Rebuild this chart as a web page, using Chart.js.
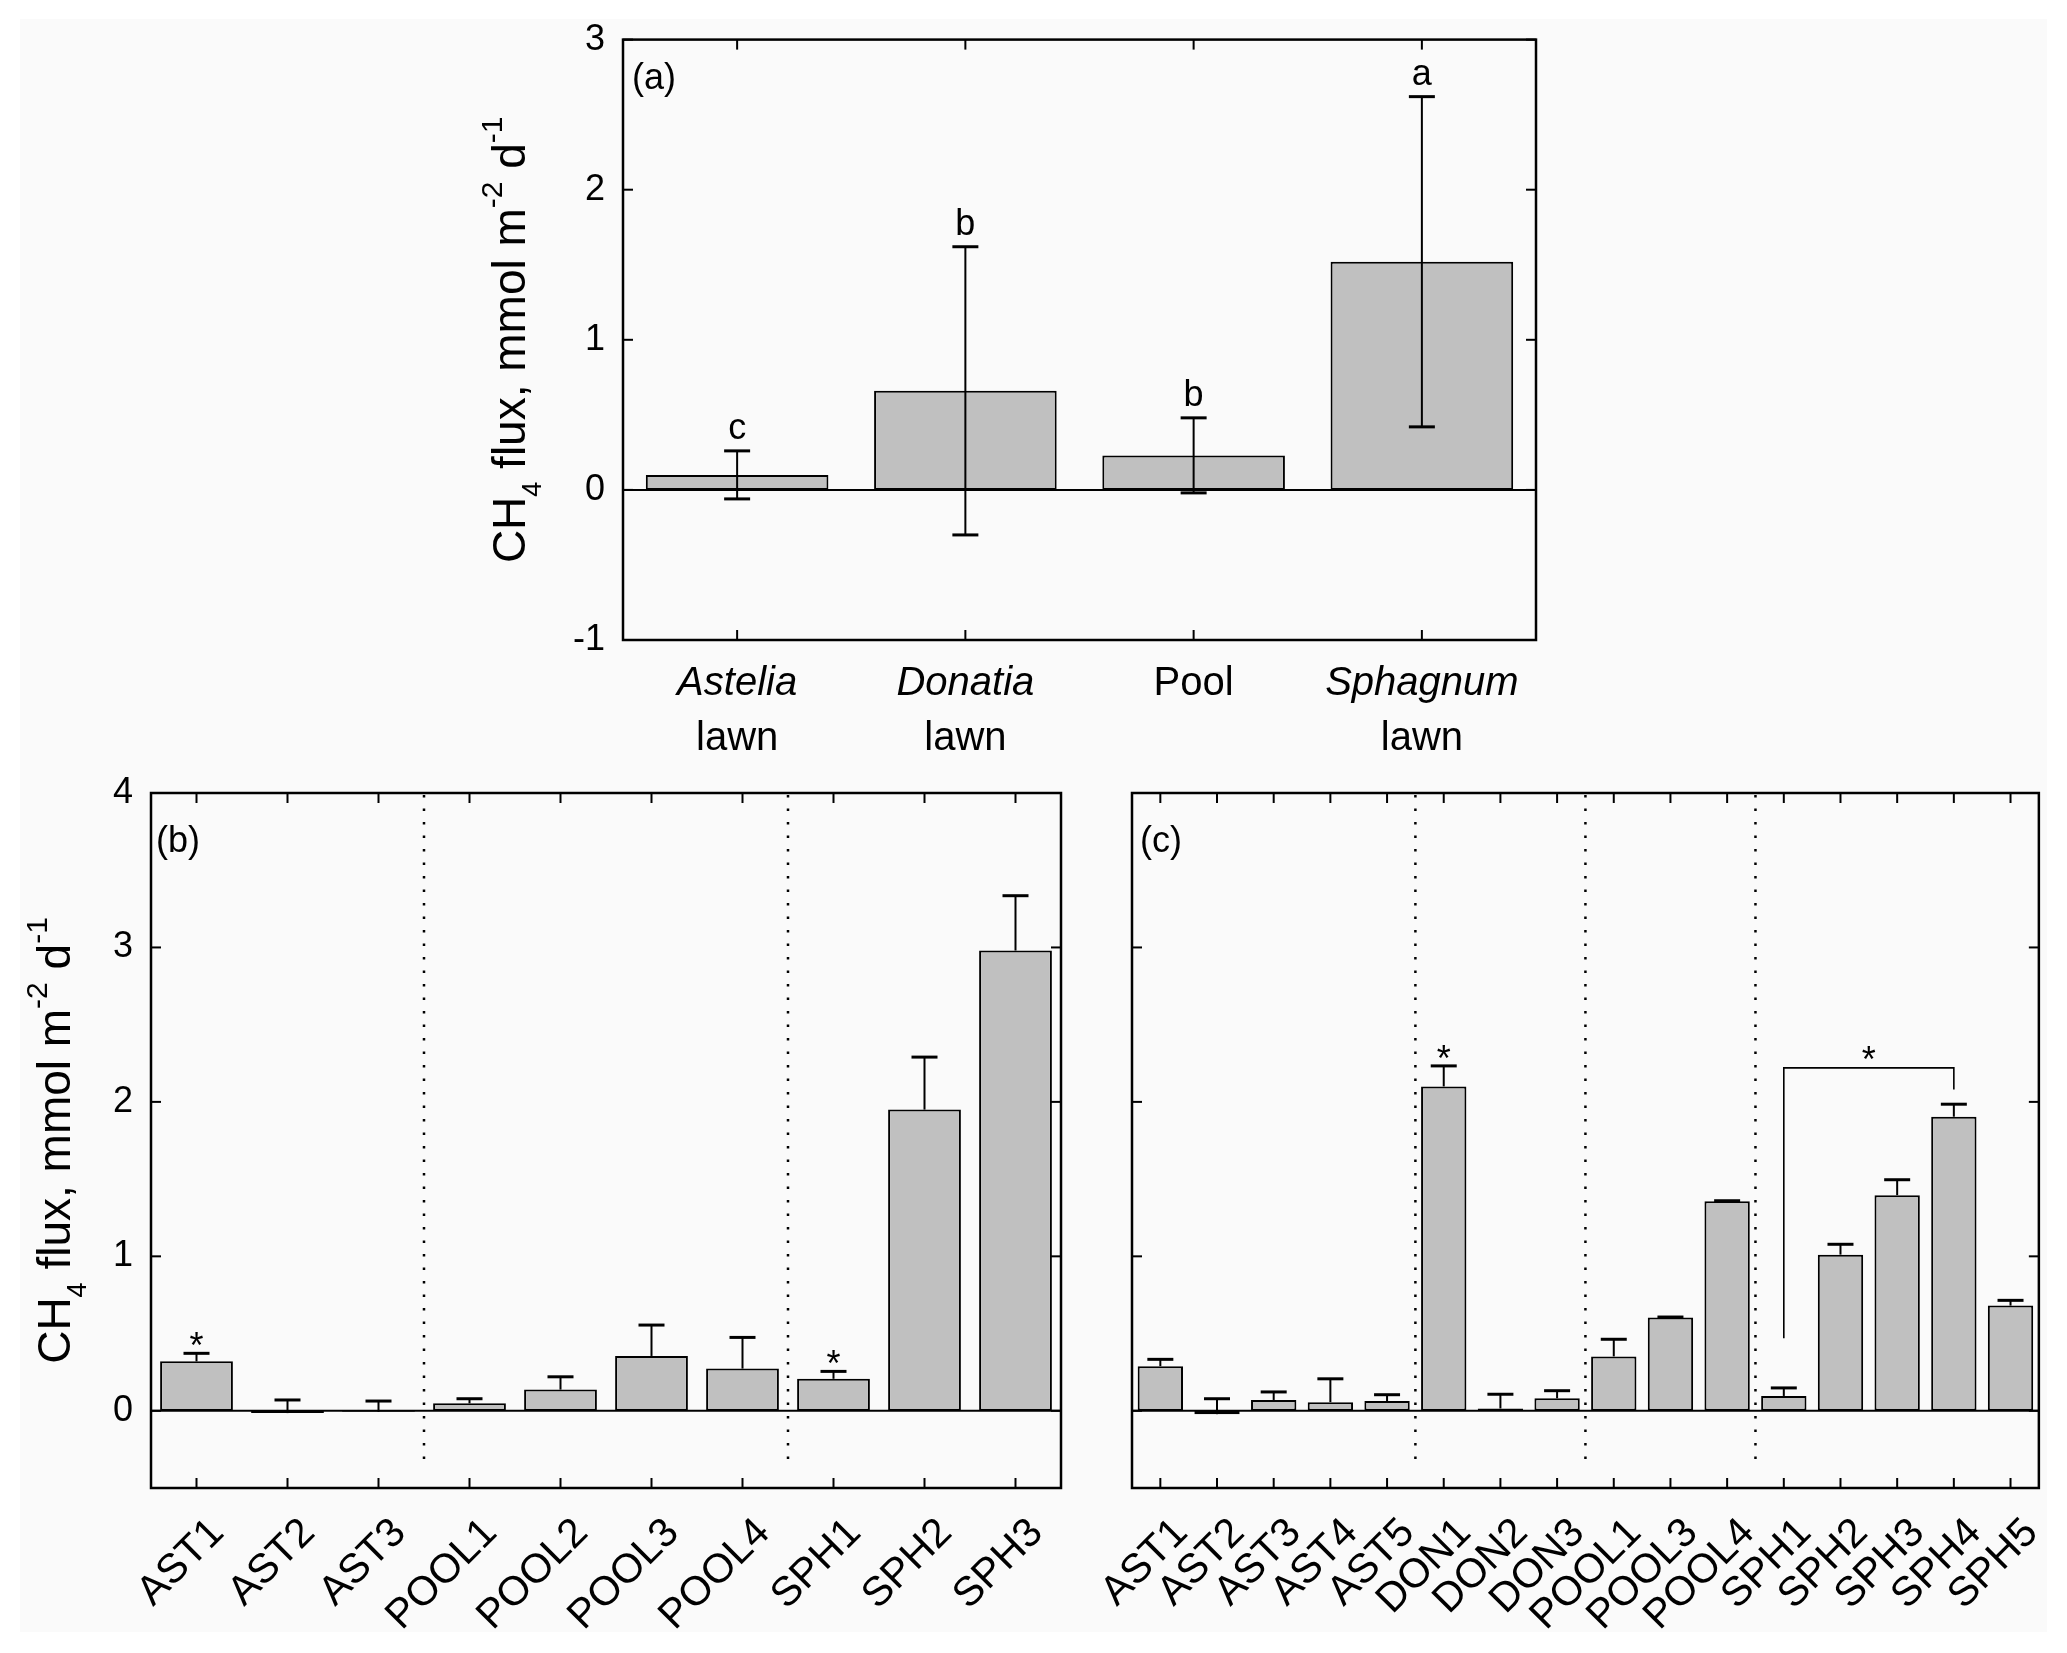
<!DOCTYPE html>
<html>
<head>
<meta charset="utf-8">
<title>CH4 flux</title>
<script src="https://cdn.jsdelivr.net/npm/chart.js@4.4.1/dist/chart.umd.min.js"></script>
<style>
  html, body { margin: 0; padding: 0; background: #fff; }
  body { width: 2067px; height: 1653px; position: relative; overflow: hidden; }
  #paper { position: absolute; left: 20px; top: 19px; width: 2027px; height: 1613px; background: #fafafa; }
  .panel { position: absolute; left: 0; top: 0; width: 2067px; height: 1653px; pointer-events: none; }
</style>
</head>
<body>
<div id="paper"></div>
<div class="panel"><canvas id="chart-a"></canvas></div>
<div class="panel"><canvas id="chart-b"></canvas></div>
<div class="panel"><canvas id="chart-c"></canvas></div>
<script>
// ---- data ----
// (a) habitat means, symmetric error bars
const catA = ['Astelia', 'Donatia', 'Pool', 'Sphagnum'];
const catA2 = ['lawn', 'lawn', '', 'lawn'];
const italicA = [true, true, false, true];
const fluxA = [0.10, 0.66, 0.23, 1.52];
const sdA = [0.16, 0.96, 0.25, 1.10];
const letterA = ['c', 'b', 'b', 'a'];
const yTicksA = [-1, 0, 1, 2, 3];

// (b) plots, upper error bars only
const catB = ['AST1', 'AST2', 'AST3', 'POOL1', 'POOL2', 'POOL3', 'POOL4', 'SPH1', 'SPH2', 'SPH3'];
const fluxB = [0.32, -0.015, -0.007, 0.048, 0.137, 0.355, 0.273, 0.207, 1.95, 2.98];
const errTopB = [0.372, 0.07, 0.063, 0.078, 0.22, 0.555, 0.475, 0.255, 2.29, 3.335];
const starB = ['AST1', 'SPH1'];
const sepB = ['AST3', 'POOL4'];
const yTicksB = [0, 1, 2, 3, 4];

// (c)
const catC = ['AST1', 'AST2', 'AST3', 'AST4', 'AST5', 'DON1', 'DON2', 'DON3',
              'POOL1', 'POOL3', 'POOL4', 'SPH1', 'SPH2', 'SPH3', 'SPH4', 'SPH5'];
const fluxC = [0.289, -0.022, 0.07, 0.056, 0.063, 2.10, 0.015, 0.081,
               0.352, 0.604, 1.356, 0.096, 1.011, 1.396, 1.904, 0.681];
const errTopC = [0.333, 0.078, 0.122, 0.207, 0.104, 2.233, 0.107, 0.13,
                 0.463, 0.607, 1.36, 0.148, 1.078, 1.496, 1.985, 0.715];
const starC = ['DON1'];
const sepC = ['AST5', 'DON3', 'POOL4'];
const bracketC = ['SPH1', 'SPH4'];
const bracketLevels = [0.47, 2.22, 2.08];   // left foot, top, right foot
const yTicksC = [0, 1, 2, 3, 4];

// axis title pieces: [text, '' | 'sub' | 'sup']
const titleParts = [['CH', ''], ['4', 'sub'], [' flux, mmol m', ''], ['-2', 'sup'], [' d', ''], ['-1', 'sup']];

const FONT = "'Liberation Sans', Arial, Helvetica, sans-serif";

function drawYTitle(ctx, x, cy) {
  const fontOf = p => (p[1] === 'sup' ? '30px ' : p[1] === 'sub' ? '27px ' : '46px ') + FONT;
  let total = 0;
  titleParts.forEach(p => { ctx.font = fontOf(p); total += ctx.measureText(p[0]).width; });
  ctx.save();
  ctx.translate(x, cy);
  ctx.rotate(-Math.PI / 2);
  ctx.textAlign = 'left';
  ctx.textBaseline = 'alphabetic';
  let cur = -total / 2;
  titleParts.forEach(p => {
    ctx.font = fontOf(p);
    const dy = p[1] === 'sub' ? 16 : p[1] === 'sup' ? -23 : 0;
    ctx.fillText(p[0], cur, dy);
    cur += ctx.measureText(p[0]).width;
  });
  ctx.restore();
}

function line(ctx, x1, y1, x2, y2) {
  ctx.beginPath(); ctx.moveTo(x1, y1); ctx.lineTo(x2, y2); ctx.stroke();
}

function decorPlugin(o) {
  return {
    id: 'decor',
    afterDatasetsDraw(chart) {
      const ctx = chart.ctx, a = chart.chartArea;
      const xs = chart.scales.x, ys = chart.scales.y;
      const labels = chart.data.labels;
      const vals = chart.data.datasets[0].data;
      const px = name => xs.getPixelForValue(labels.indexOf(name));
      ctx.save();
      ctx.strokeStyle = '#000';
      ctx.fillStyle = '#000';

      // zero line
      ctx.lineWidth = 2;
      const y0 = ys.getPixelForValue(0);
      line(ctx, a.left, y0, a.right, y0);

      // dotted group separators
      ctx.setLineDash([2.5, 11]);
      ctx.lineWidth = 2.5;
      (o.seps || []).forEach(name => {
        const i = labels.indexOf(name);
        const x = (xs.getPixelForValue(i) + xs.getPixelForValue(i + 1)) / 2;
        line(ctx, x, a.top + 2, x, ys.getPixelForValue(-0.35));
      });
      ctx.setLineDash([]);

      // error bars
      vals.forEach((v, i) => {
        const x = xs.getPixelForValue(i);
        const hi = o.sd ? v + o.sd[i] : o.errTop[i];
        const lo = o.sd ? v - o.sd[i] : v;
        const yh = ys.getPixelForValue(hi), yl = ys.getPixelForValue(lo);
        ctx.lineWidth = 2;
        line(ctx, x, yl, x, yh);
        ctx.lineWidth = 3;
        line(ctx, x - 13, yh, x + 13, yh);
        if (o.sd) line(ctx, x - 13, yl, x + 13, yl);
      });

      // significance letters (a)
      if (o.letters) {
        ctx.font = '36px ' + FONT;
        ctx.textAlign = 'center';
        ctx.textBaseline = 'alphabetic';
        o.letters.forEach((t, i) => {
          ctx.fillText(t, xs.getPixelForValue(i), ys.getPixelForValue(vals[i] + o.sd[i]) - 12);
        });
      }

      // stars
      ctx.font = '36px ' + FONT;
      ctx.textAlign = 'center';
      ctx.textBaseline = 'alphabetic';
      (o.stars || []).forEach(name => {
        const i = labels.indexOf(name);
        ctx.fillText('*', xs.getPixelForValue(i), ys.getPixelForValue(o.errTop[i]) + 5);
      });

      // bracket
      if (o.bracket) {
        const x1 = px(o.bracket[0]), x2 = px(o.bracket[1]);
        const yb = ys.getPixelForValue(o.bracketLevels[1]);
        ctx.lineWidth = 1.6;
        ctx.beginPath();
        ctx.moveTo(x1, ys.getPixelForValue(o.bracketLevels[0]));
        ctx.lineTo(x1, yb);
        ctx.lineTo(x2, yb);
        ctx.lineTo(x2, ys.getPixelForValue(o.bracketLevels[2]));
        ctx.stroke();
        ctx.fillText('*', (x1 + x2) / 2, yb + 4);
      }

      // frame and inward ticks on all four sides
      ctx.lineWidth = 2;
      o.yTicks.forEach(v => {
        const y = ys.getPixelForValue(v);
        line(ctx, a.left, y, a.left + 10, y);
        line(ctx, a.right - 10, y, a.right, y);
      });
      labels.forEach((_, i) => {
        const x = xs.getPixelForValue(i);
        line(ctx, x, a.bottom, x, a.bottom - 10);
        line(ctx, x, a.top, x, a.top + 10);
      });
      ctx.lineWidth = 2.5;
      ctx.strokeRect(a.left, a.top, a.right - a.left, a.bottom - a.top);

      // panel tag
      ctx.font = '36px ' + FONT;
      ctx.textAlign = 'left';
      ctx.fillText(o.tag, a.left + o.tagDx, a.top + o.tagDy);

      // two-line category labels for (a)
      if (o.cat2) {
        ctx.textAlign = 'center';
        labels.forEach((t, i) => {
          const x = xs.getPixelForValue(i);
          ctx.font = (o.italic[i] ? 'italic ' : '') + '40px ' + FONT;
          ctx.fillText(t, x, a.bottom + 55);
          ctx.font = '40px ' + FONT;
          if (o.cat2[i]) ctx.fillText(o.cat2[i], x, a.bottom + 110);
        });
      }

      if (o.titleX) drawYTitle(ctx, o.titleX, (a.top + a.bottom) / 2);
      ctx.restore();
    }
  };
}

function makeChart(id, o) {
  return new Chart(document.getElementById(id), {
    type: 'bar',
    data: {
      labels: o.labels,
      datasets: [{
        data: o.values,
        backgroundColor: '#c0c0c0',
        borderColor: '#000',
        borderWidth: 2,
        borderSkipped: false,
        barPercentage: 0.8,
        categoryPercentage: 1
      }]
    },
    options: {
      responsive: true,
      maintainAspectRatio: false,
      animation: false,
      events: [],
      layout: { padding: o.pad, autoPadding: false },
      plugins: { legend: { display: false }, tooltip: { enabled: false } },
      scales: {
        x: {
          grid: { display: false, drawTicks: false },
          border: { display: false },
          ticks: o.xTicks,
          afterFit: s => { s.height = o.xh; }
        },
        y: {
          min: o.yMin,
          max: o.yMax,
          grid: { display: false, drawTicks: false },
          border: { display: false },
          afterBuildTicks: s => { s.ticks = o.yTicks.map(v => ({ value: v })); },
          ticks: { display: o.yLabels, color: '#000', font: { family: FONT, size: 36 }, padding: 18 },
          afterFit: s => { s.width = o.yw; }
        }
      }
    },
    plugins: [decorPlugin(o)]
  });
}

const rotatedTicks = {
  color: '#000',
  font: { family: FONT, size: 41 },
  minRotation: 45,
  maxRotation: 45,
  autoSkip: false,
  padding: 21,
  labelOffset: 21
};

makeChart('chart-a', {
  labels: catA, values: fluxA, sd: sdA, letters: letterA,
  cat2: catA2, italic: italicA,
  yMin: -1, yMax: 3, yTicks: yTicksA, yLabels: true,
  xTicks: { display: false }, xh: 100, yw: 100,
  pad: { left: 523, right: 531, top: 32, bottom: 913 },
  tag: '(a)', tagDx: 9, tagDy: 49, titleX: 525
});

makeChart('chart-b', {
  labels: catB, values: fluxB, errTop: errTopB, stars: starB, seps: sepB,
  yMin: -0.5, yMax: 4, yTicks: yTicksB, yLabels: true,
  xTicks: rotatedTicks, xh: 150, yw: 100,
  pad: { left: 51, right: 1006, top: 793, bottom: 15 },
  tag: '(b)', tagDx: 5, tagDy: 59, titleX: 70
});

makeChart('chart-c', {
  labels: catC, values: fluxC, errTop: errTopC, stars: starC, seps: sepC,
  bracket: bracketC, bracketLevels: bracketLevels,
  yMin: -0.5, yMax: 4, yTicks: yTicksC, yLabels: false,
  xTicks: rotatedTicks, xh: 150, yw: 0,
  pad: { left: 1132, right: 22, top: 793, bottom: 15 },
  tag: '(c)', tagDx: 8, tagDy: 59
});
</script>
</body>
</html>
